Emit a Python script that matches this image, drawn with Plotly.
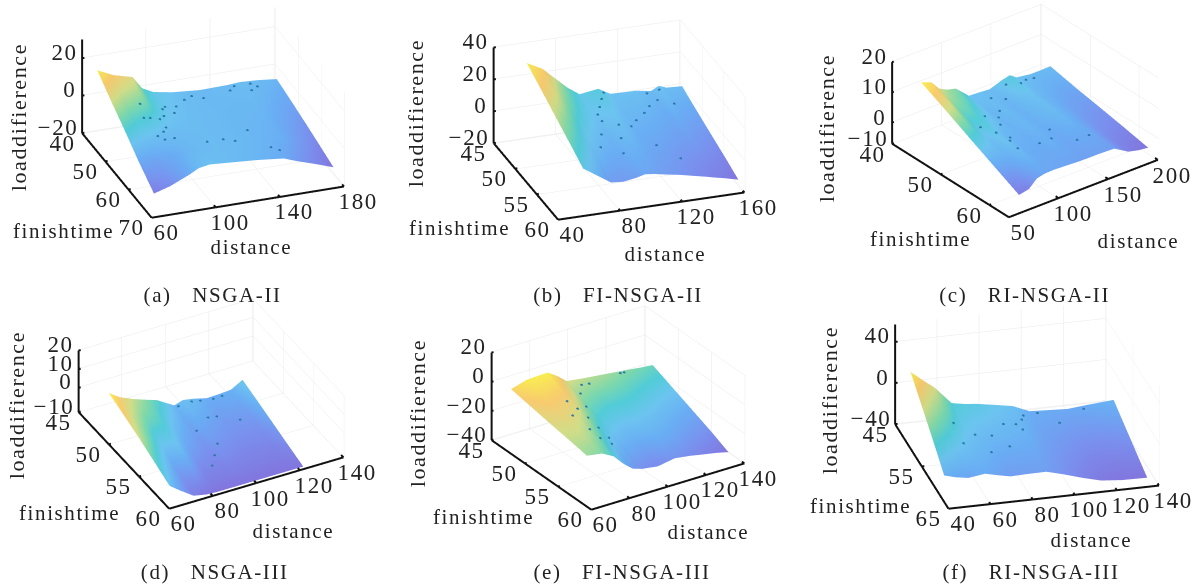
import math
import numpy as np
import plotly.graph_objects as go

# ---------- values ----------
a_dist = [68, 78, 90, 96, 103, 115, 132, 149, 157, 168, 180]
a_time = [41, 47, 53.2, 59, 65.5]
a_load = [
    [14, 10, 7.3, 0.5, -2.5, -4.3, -5.5, -5.2, -4.7, -5.2, -6.3],
    [6.5, 3.5, 1.5, -1.5, -3.5, -4.7, -5.5, -5.5, -5.5, -6.8, -8.5],
    [-0.7, -3, -4.5, -5, -5, -5, -5.5, -6, -6.5, -8.5, -11],
    [-8, -9, -7.5, -6.5, -5.5, -5, -5.5, -6.5, -7, -10, -13.5],
    [-15, -12.5, -8, -5.3, -4.3, -5, -6, -7.5, -10, -13, -16.5],
]
b_dist = [60, 70, 78, 86, 94, 100, 106, 114, 122, 130, 140, 145, 150, 160]
b_time = [45.5, 48.8, 52, 55.3, 58.6]
b_load = [
    [29, 24, 17, 10, 4.6, 5.5, 6.3, 2, 1.8, 1.7, 0.1, 2.6, 0.8, 0.3],
    [23, 18, 11, 6, 2.5, 2.5, 3, 0, -0.5, -1, -3, -1.5, -3, -4],
    [17, 11, 5, 1.5, -1, 0.5, 0.5, -2.5, -3, -4, -5.5, -5, -6.5, -8],
    [11, 5, -0.5, -3, -3.5, -2, -2.5, -4.5, -5.5, -7, -8.5, -9, -10, -12],
    [4.8, -1.5, -6.6, -7.2, -6, -4.5, -5.2, -6.7, -8, -9.7, -11.8, -13, -14, -16.4],
]
c_dist = [70, 80, 88, 96, 105, 118, 128, 139, 150, 159, 166, 180, 190, 200]
c_time = [41.9, 47, 52, 57, 62]
c_load = [
    [12.7, 11.5, 8.4, 7, 6.2, 2.2, 2, 1.7, 3, 3.8, 2.2, 1.5, 1.5, 1.6],
    [8.5, 7.5, 5, 5, 3.4, 1, 1.6, 0.8, 1.7, 2.2, 1.2, 0.2, -0.2, -0.2],
    [4.2, 3.5, 2, 2.8, 1.2, 0.7, 1.1, 0.5, 1, 1.4, 0.6, -1, -1.5, -1.7],
    [0, 0, 0.5, 1.4, 0.3, 0.1, 0.5, -0.2, 0.1, 0.2, -0.2, -2.4, -3, -3.3],
    [-4.2, -3.5, -1, -0.4, -0.3, -0.5, -0.7, -0.8, -0.8, -0.9, -1, -3.8, -4.6, -5],
]
d_dist = [61, 66, 72, 78, 83, 91, 95, 100, 106, 112, 117, 122.4]
d_time = [49.65, 52.2, 54.7, 57.2, 59.7]
d_load = [
    [13, 9, 6, 3.5, 1.6, -4, -2.5, -3.5, -5.3, -5, -4.6, -1.1],
    [9.5, 5.7, 2.3, 1, -2.5, -6.2, -5.2, -6, -7.2, -7, -7, -4],
    [6, 2.5, -2.5, -2, -6, -8.5, -7.7, -8.3, -9, -9, -9, -7],
    [2, -2, -7.5, -6.5, -10, -10.7, -10.3, -10.6, -11, -11, -11, -10],
    [-2.1, -6.4, -11.2, -12.6, -12.9, -12.9, -12.9, -12.9, -12.9, -12.9, -12.9, -12.9],
]
e_dist = [66, 74, 80, 85, 90, 95, 103, 112, 120, 127, 134, 140]
e_time = [46.2, 49, 52, 55, 57.6]
e_load = [
    [-3.6, -0.5, 0, 0.2, -4, -9.5, -11, -12.3, -13.5, -14.5, -15.7, -16.4],
    [-6, -4, -4.5, -5.5, -10, -15, -17, -17.5, -18.5, -20, -21, -22],
    [-8.5, -7.5, -9, -12, -17.5, -21, -23, -23, -24, -25.5, -27, -28],
    [-10.8, -11, -14, -19, -24.5, -27.5, -29, -28, -29, -31, -32.5, -34],
    [-13, -14.7, -19, -26, -31.4, -33.5, -35, -33, -34.5, -36.3, -38, -39.9],
]
f_dist = [40.5, 46, 52, 60, 66, 72, 80, 89, 97, 106, 115, 125, 137]
f_time = [50.4, 53.5, 56.7, 59.8, 63]
f_load = [
    [33, 24, 15, -1.8, -4, -5.3, -8, -11.2, -18, -19, -19.9, -18, -16],
    [21, 13, 6, -6, -8.5, -10, -12, -14.5, -20.5, -22, -24, -24, -22],
    [9, 3, -3, -10.5, -13, -15, -16, -17.5, -22.5, -26, -29, -30, -28],
    [-3, -8, -12, -14.5, -17, -19.5, -20, -20.5, -25, -29.5, -33.5, -35, -34],
    [-16, -19, -21, -18.7, -21.5, -24, -23.5, -23.3, -27.5, -33, -37.7, -39.5, -39.9],
]

# dots lying on the surfaces: distance, finishtime
a_dots_d = [84, 88, 92, 95, 98, 100, 103, 87, 90, 96, 106, 110, 118, 124, 130, 148, 152, 160, 162, 165, 112, 122, 128, 140, 146, 150, 94, 86]
a_dots_t = [50, 50, 53, 52, 49, 47, 46, 54, 55, 55, 48, 46, 44, 43, 44, 43, 42, 44, 42, 43, 58, 58, 59, 56, 62, 63, 50, 47]
b_dots_d = [84, 90, 96, 100, 104, 108, 96, 100, 112, 118, 126, 132, 136, 140, 144, 148, 96, 104, 120, 130]
b_dots_t = [54, 52, 50, 48, 47, 46, 55, 53, 51, 50, 49, 48, 46, 47, 46, 48, 49, 51, 54, 56]
c_dots_d = [90, 96, 100, 105, 110, 118, 124, 130, 140, 150, 160, 170, 178, 120, 132, 140, 148, 160, 104, 98]
c_dots_t = [50, 52, 54, 53, 50, 48, 47, 44, 45, 43, 44, 43, 43, 56, 56, 54, 58, 58, 48, 56]
d_dots_d = [92, 98, 102, 108, 112, 100, 104, 92, 96, 112, 92, 88]
d_dots_t = [50, 50, 50, 50, 50, 52, 52, 53, 55, 53, 56, 57]
e_dots_d = [82, 84, 86, 88, 90, 78, 80, 82, 92, 88, 96, 100, 104, 122, 124]
e_dots_t = [50, 51, 52, 53, 54, 52, 54, 55, 50, 55, 48, 47, 47, 46.5, 46.5]
f_dots_d = [55, 56, 64, 68, 72, 78, 80, 86, 88, 90, 92, 100, 108, 122]
f_dots_t = [55, 58, 56, 59, 56, 58, 54, 54, 55, 53, 52, 51, 53, 51]

# tick labels
a_dist_ticks, a_time_ticks, a_load_ticks = [60, 100, 140, 180], [40, 50, 60, 70], [-20, 0, 20]
b_dist_ticks, b_time_ticks, b_load_ticks = [40, 80, 120, 160], [45, 50, 55, 60], [-20, 0, 20, 40]
c_dist_ticks, c_time_ticks, c_load_ticks = [50, 100, 150, 200], [40, 50, 60], [0, 10, 20]
d_dist_ticks, d_time_ticks, d_load_ticks = [60, 80, 100, 120, 140], [45, 50, 55, 60], [0, 10, 20]
e_dist_ticks, e_time_ticks, e_load_ticks = [60, 80, 100, 120, 140], [45, 50, 55, 60], [-40, -20, 0, 20]
f_dist_ticks, f_time_ticks, f_load_ticks = [40, 60, 80, 100, 120, 140], [45, 55, 65], [-40, 0, 40]

captions = ["(a)\u00a0\u00a0 NSGA-II", "(b)\u00a0\u00a0 FI-NSGA-II", "(c)\u00a0\u00a0 RI-NSGA-II",
            "(d)\u00a0\u00a0 NSGA-III", "(e)\u00a0\u00a0 FI-NSGA-III", "(f)\u00a0\u00a0 RI-NSGA-III"]

# ---------- layout ----------
W, H = 1201, 587
CAL = 2.03
PAD = 0.004
DOM_W, DOM_H = 300, 220
FONT = "Liberation Serif"
TXT = "#222222"
SCALE = [[0, "#8276de"], [0.15, "#7a90ee"], [0.3, "#69aef4"], [0.42, "#6cc4f0"], [0.52, "#52ccd8"],
         [0.62, "#7cd8ac"], [0.75, "#d2dd88"], [0.87, "#f8cb70"], [1, "#f8ee50"]]

panels = [
    dict(d=a_dist, t=a_time, l=a_load, dd=a_dots_d, dt=a_dots_t, dtk=a_dist_ticks, ttk=a_time_ticks, ltk=a_load_ticks,
         xr=(60, 180), yr=(40, 70), zr=(-20, 30), B=(83, 133), O=(152, 217), XE=(343, 186), ZT=(83, 40),
         zt=(18, 117), ft=(63, 231), dn=(251, 247), cap=(212, 295), extra=None),
    dict(d=b_dist, t=b_time, l=b_load, dd=b_dots_d, dt=b_dots_t, dtk=b_dist_ticks, ttk=b_time_ticks, ltk=b_load_ticks,
         xr=(40, 160), yr=(45, 60), zr=(-20, 40), B=(494, 143), O=(558, 219), XE=(743, 192), ZT=(494, 48),
         zt=(415, 113), ft=(459, 228), dn=(665, 254), cap=(618, 295), extra=None),
    dict(d=c_dist, t=c_time, l=c_load, dd=c_dots_d, dt=c_dots_t, dtk=c_dist_ticks, ttk=c_time_ticks, ltk=c_load_ticks,
         xr=(50, 200), yr=(40, 64), zr=(-7, 20), B=(893, 144), O=(1009, 217), XE=(1157, 160), ZT=(893, 63),
         zt=(827, 128), ft=(920, 239), dn=(1138, 241), cap=(1024, 295), extra="\u221210"),
    dict(d=d_dist, t=d_time, l=d_load, dd=d_dots_d, dt=d_dots_t, dtk=d_dist_ticks, ttk=d_time_ticks, ltk=d_load_ticks,
         xr=(60, 140), yr=(45, 60), zr=(-13, 20), B=(79, 412), O=(169, 508), XE=(342, 457), ZT=(79, 351),
         zt=(16, 405), ft=(69, 513), dn=(293, 531), cap=(214, 572), extra="\u221210"),
    dict(d=e_dist, t=e_time, l=e_load, dd=e_dots_d, dt=e_dots_t, dtk=e_dist_ticks, ttk=e_time_ticks, ltk=e_load_ticks,
         xr=(60, 140), yr=(45, 60), zr=(-40, 20), B=(492, 440), O=(591, 509), XE=(743, 463), ZT=(492, 353),
         zt=(417, 413), ft=(483, 517), dn=(708, 532), cap=(622, 572), extra=None),
    dict(d=f_dist, t=f_time, l=f_load, dd=f_dots_d, dt=f_dots_t, dtk=f_dist_ticks, ttk=f_time_ticks, ltk=f_load_ticks,
         xr=(40, 140), yr=(45, 65), zr=(-40, 57), B=(896, 424), O=(949, 508), XE=(1158, 485), ZT=(896, 325),
         zt=(829, 400), ft=(860, 506), dn=(1091, 540), cap=(1031, 572), extra=None),
]


def surf_z(p, dx, ty):
    """z on the panel surface under a dot."""
    col = [np.interp(dx, p["d"], row) for row in p["l"]]
    return float(np.interp(ty, p["t"], col))


def lab(v):
    return ("\u2212" + str(-v)) if v < 0 else str(v)


fig = go.Figure()
layout = dict(width=W, height=H, margin=dict(l=0, r=0, t=0, b=0), paper_bgcolor="white",
              showlegend=False, annotations=[])

for i, p in enumerate(panels):
    sid = "scene" if i == 0 else f"scene{i+1}"
    tn = sid
    Bx, By = p["B"]; Ox, Oy = p["O"]; Xx, Xy = p["XE"]; _, Zy = p["ZT"]
    vx = (Xx - Ox, Oy - Xy)          # x axis on screen (right, up)
    vy = (Ox - Bx, Oy - By)          # y axis towards viewer (right, down)
    pz = By - Zy
    tan2a = (vx[1] / vx[0]) * (vy[0] / vy[1])
    sin2e = (vx[1] / vx[0]) / (vy[0] / vy[1])
    ang = math.atan(math.sqrt(tan2a))
    ele = math.asin(math.sqrt(sin2e))
    Lx = vx[0] / math.cos(ang)
    Ly = vy[0] / math.sin(ang)
    Lz = pz / math.cos(ele)
    D = 2.0
    eye = dict(x=-D * math.sin(ang) * math.cos(ele), y=-D * math.cos(ang) * math.cos(ele), z=D * math.sin(ele))
    cx = Bx + vx[0] / 2 + vy[0] / 2
    cy = By - vx[1] / 2 + vy[1] / 2 - pz / 2
    dom = dict(x=[(cx - DOM_W / 2) / W, (cx + DOM_W / 2) / W], y=[1 - (cy + DOM_H / 2) / H, 1 - (cy - DOM_H / 2) / H])

    x0, x1 = p["xr"]; y0, y1 = p["yr"]; z0, z1 = p["zr"]
    ex, ey, ez = (x1 - x0) * PAD, (y1 - y0) * PAD, (z1 - z0) * PAD

    fig.add_trace(go.Surface(x=p["d"], y=p["t"], z=p["l"], scene=tn, colorscale=SCALE, showscale=False,
                             lighting=dict(ambient=0.96, diffuse=0.1, specular=0, fresnel=0, roughness=1),
                             lightposition=dict(x=0, y=-1000, z=2000),
                             hoverinfo="skip"))
    zs = [surf_z(p, a, b) + (z1 - z0) * 0.006 for a, b in zip(p["dd"], p["dt"])]
    fig.add_trace(go.Scatter3d(x=p["dd"], y=p["dt"], z=zs, mode="markers", scene=tn,
                               marker=dict(size=1.6, color="#2a78a8"), hoverinfo="skip"))

    # axis lines and ticks
    lx, ly, lz = [x0, x1, None, x0, x0, None, x0, x0], [y1, y1, None, y0, y1, None, y0, y0], [z0, z0, None, z0, z0, None, z0, z1]
    dy, dx = (y1 - y0) * 0.025, (x1 - x0) * 0.012
    for v in p["dtk"]:
        lx += [None, v, v]; ly += [None, y1, y1 - dy]; lz += [None, z0, z0]
    for v in p["ttk"]:
        lx += [None, x0, x0 + dx]; ly += [None, v, v]; lz += [None, z0, z0]
    for v in p["ltk"]:
        lx += [None, x0, x0 + dx]; ly += [None, y0, y0]; lz += [None, v, v]
    fig.add_trace(go.Scatter3d(x=lx, y=ly, z=lz, mode="lines", scene=tn, line=dict(color="#111111", width=4),
                               hoverinfo="skip", connectgaps=False))

    tick_font = dict(family=FONT, size=23, color=TXT)
    ann = []
    for v in p["dtk"]:
        ann.append(dict(x=v, y=y1, z=z0, text=str(v), showarrow=False, xshift=15, yshift=-15, font=tick_font))
    for v in p["ttk"]:
        ann.append(dict(x=x0, y=v, z=z0, text=str(v), showarrow=False, xshift=-20, yshift=-10, font=tick_font))
    for v in p["ltk"]:
        ann.append(dict(x=x0, y=y0, z=v, text=lab(v), showarrow=False, xanchor="right", xshift=-4, yshift=6, font=tick_font))
    if p["extra"]:
        ann.append(dict(x=x0, y=y0, z=z0, text=p["extra"], showarrow=False, xanchor="right", xshift=-4, yshift=6, font=tick_font))

    ax = dict(showticklabels=False, showline=False, zeroline=False, showbackground=False, showspikes=False,
              showgrid=True, gridcolor="#e9e9e9", gridwidth=1, ticks="", title=dict(text=""))
    layout[sid] = dict(
        domain=dom,
        xaxis=dict(ax, range=[x0 - ex, x1 + ex], tickmode="array", tickvals=p["dtk"]),
        yaxis=dict(ax, range=[y1 + ey, y0 - ey], tickmode="array", tickvals=p["ttk"]),
        zaxis=dict(ax, range=[z0 - ez, z1 + ez], tickmode="array", tickvals=p["ltk"]),
        aspectmode="manual",
        aspectratio=dict(x=Lx * CAL / DOM_H, y=Ly * CAL / DOM_H, z=Lz * CAL / DOM_H),
        camera=dict(eye=eye, up=dict(x=0, y=0, z=1), center=dict(x=0, y=0, z=0),
                    projection=dict(type="orthographic")),
        annotations=ann,
    )

    def paper(pos, text, size, angle=0):
        layout["annotations"].append(dict(x=pos[0] / W, y=1 - pos[1] / H, xref="paper", yref="paper", text=text,
                                          showarrow=False, textangle=angle, xanchor="center", yanchor="middle",
                                          font=dict(family=FONT, size=size, color=TXT)))
    paper(p["zt"], "loaddifierence", 22, -90)
    paper(p["ft"], "finishtime", 21)
    paper(p["dn"], "distance", 21)
    paper(p["cap"], captions[i], 21)

fig.update_layout(**layout)
post = ("document.body.style.margin='0';document.documentElement.style.overflow='hidden';"
        "var s=document.createElement('style');s.textContent='.annotation-text{letter-spacing:1.6px}';"
        "document.head.appendChild(s);")
fig.write_html("out.html", post_script=post, config=dict(displayModeBar=False))
